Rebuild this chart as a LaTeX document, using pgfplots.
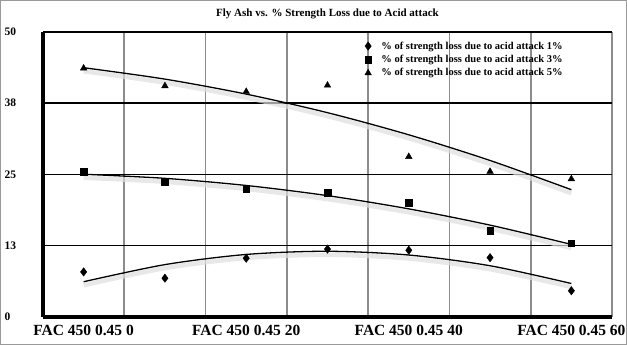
\documentclass[border=0pt]{standalone}
\usepackage{fontspec}
\setmainfont{Liberation Serif}
\usepackage{pgfplots}
\pgfplotsset{compat=1.18}
\begin{document}
\begin{tikzpicture}
\draw[black!40, line width=0.8pt, use as bounding box] (-42.6pt,-27.6pt) rectangle (583.6pt,316.6pt);
\begin{axis}[
  at={(0pt,0pt)}, anchor=south west,
  width=569pt, height=285.3pt, scale only axis,
  xmin=-0.5, xmax=6.5, ymin=0, ymax=50,
  axis x line*=bottom, axis y line*=left,
  axis line style={line width=3.2pt, -},
  major tick length=0pt, minor tick length=0pt,
  xtick={0,2,4,6},
  xticklabels={FAC 450 0.45 0, FAC 450 0.45 20, FAC 450 0.45 40, FAC 450 0.45 60},
  minor xtick={-0.5,0.5,1.5,2.5,3.5,4.5,5.5,6.5},
  xminorgrids, minor x grid style={black!45, line width=1.6pt},
  ytick={0,12.5,25,37.5,50}, yticklabels={0,13,25,38,50},
  ymajorgrids, major y grid style={black, line width=1.6pt},
  /pgf/number format/assume math mode=true,
  xticklabel style={font=\bfseries\fontsize{15.5}{16}\selectfont, yshift=-4.5pt},
  yticklabel style={font=\bfseries\fontsize{11.5}{12}\selectfont, anchor=west, xshift=-42pt},
  title={Fly Ash vs. \% Strength Loss due to Acid attack},
  title style={at={(0.5,1)}, anchor=base, yshift=9.5pt, font=\bfseries\fontsize{11}{12}\selectfont},
  legend style={at={(axis cs:3.42,49.0)}, anchor=north west, draw=none, fill=none,
    font=\bfseries\fontsize{10.5}{12}\selectfont, row sep=0.6pt, column sep=8pt},
  legend cell align=left,
  clip=false,
]
% trendline shadows
\addplot[forget plot, smooth, black!13, line width=4.5pt, opacity=0.7, yshift=-3.5pt] coordinates {(0,6.18) (1,9.18) (2,10.96) (3,11.52) (4,10.86) (5,8.98) (6,5.87)};
\addplot[forget plot, smooth, black!13, line width=4.5pt, opacity=0.7, yshift=-3.5pt] coordinates {(0,25.02) (1,24.30) (2,23.05) (3,21.27) (4,18.95) (5,16.10) (6,12.72)};
\addplot[forget plot, smooth, black!13, line width=4.5pt, opacity=0.7, yshift=-3.5pt] coordinates {(0,43.69) (1,41.69) (2,39.06) (3,35.81) (4,31.93) (5,27.43) (6,22.31)};
% trendlines
\addplot[forget plot, smooth, black, line width=1.3pt] coordinates {(0,6.18) (1,9.18) (2,10.96) (3,11.52) (4,10.86) (5,8.98) (6,5.87)};
\addplot[forget plot, smooth, black, line width=1.3pt] coordinates {(0,25.02) (1,24.30) (2,23.05) (3,21.27) (4,18.95) (5,16.10) (6,12.72)};
\addplot[forget plot, smooth, black, line width=1.3pt] coordinates {(0,43.69) (1,41.69) (2,39.06) (3,35.81) (4,31.93) (5,27.43) (6,22.31)};
% data
\addplot[only marks, mark=diamond*, mark size=4.2pt, black] coordinates {(0,7.9) (1,6.8) (2,10.3) (3,11.9) (4,11.7) (5,10.4) (6,4.6)};
\addlegendentry{\% of strength loss due to acid attack 1\%}
\addplot[only marks, mark=square*, mark size=3.3pt, black] coordinates {(0,25.5) (1,23.7) (2,22.4) (3,21.8) (4,20.0) (5,15.1) (6,12.9)};
\addlegendentry{\% of strength loss due to acid attack 3\%}
\addplot[only marks, mark=triangle*, mark size=3.8pt, black] coordinates {(0,43.6) (1,40.5) (2,39.5) (3,40.6) (4,28.1) (5,25.5) (6,24.2)};
\addlegendentry{\% of strength loss due to acid attack 5\%}
\end{axis}
\end{tikzpicture}
\end{document}
